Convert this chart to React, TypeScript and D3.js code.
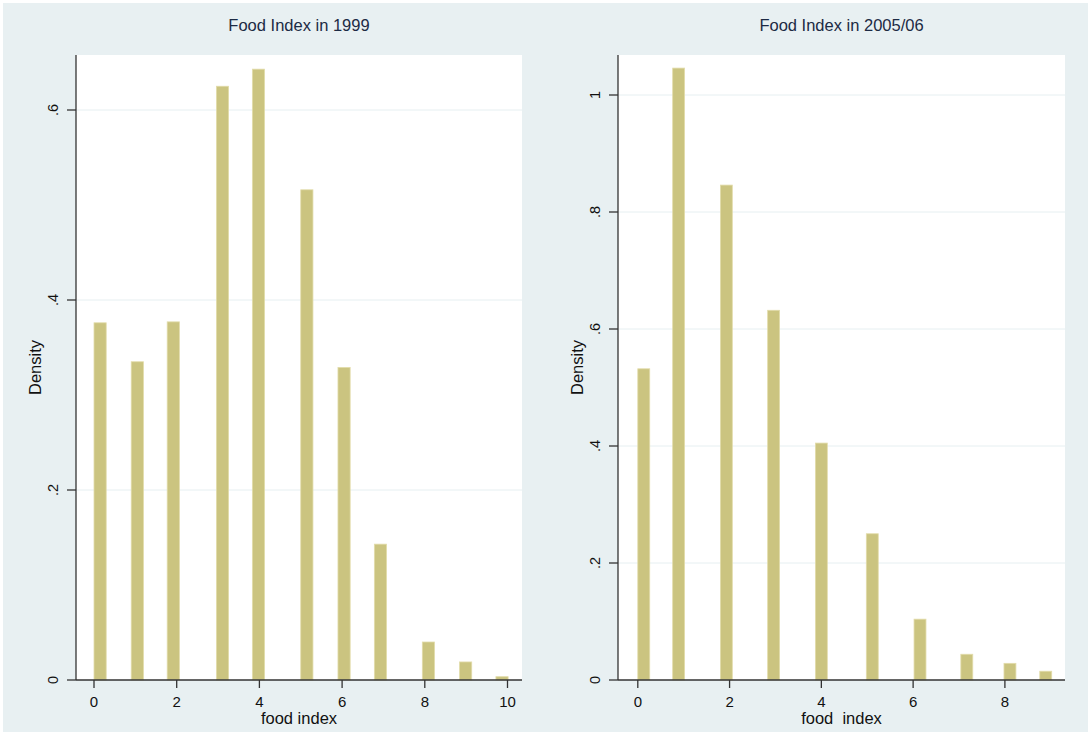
import React from "react";
import * as d3 from "d3";

// Food Index in 1999 - histogram bins (left edge of bin, density)
const bins1999 = [0, 0.9, 1.77, 2.96, 3.83, 5.0, 5.9, 6.78, 7.94, 8.84, 9.72];
const density1999 = [0.376, 0.335, 0.377, 0.625, 0.643, 0.516, 0.329, 0.143, 0.04, 0.019, 0.0035];
const binWidth1999 = 0.295;
const xTicks1999 = [0, 2, 4, 6, 8, 10];
const yTicks1999 = [0, 0.2, 0.4, 0.6];

// Food Index in 2005/06
const bins2005 = [0, 0.76, 1.8, 2.83, 3.87, 4.98, 6.02, 7.04, 7.98, 8.76];
const density2005 = [0.532, 1.046, 0.846, 0.632, 0.405, 0.25, 0.104, 0.044, 0.0285, 0.015];
const binWidth2005 = 0.26;
const xTicks2005 = [0, 2, 4, 6, 8];
const yTicks2005 = [0, 0.2, 0.4, 0.6, 0.8, 1];

const FONT = "'Liberation Sans', Arial, sans-serif";
const BG = "#e8f0f2";
const BAR = "#cbc480";

const fmtTick = (v) => (v === 0 ? "0" : v >= 1 ? String(v) : String(v).replace(/^0/, ""));

function Histogram({ title, xLabel, bins, density, binWidth, xTicks, yTicks, plot, xScaleDef, yScaleDef }) {
  const xScale = d3.scaleLinear().domain(xScaleDef.domain).range(xScaleDef.range);
  const yScale = d3.scaleLinear().domain(yScaleDef.domain).range(yScaleDef.range);
  const midX = (plot.left + plot.right) / 2;
  const baseY = yScale(0);

  return (
    <g>
      {/* plot region */}
      <rect x={plot.left} y={plot.top} width={plot.right - plot.left} height={baseY - plot.top} fill="white" />
      {/* grid */}
      {yTicks
        .filter((t) => t > 0)
        .map((t) => (
          <line key={t} x1={plot.left} x2={plot.right} y1={yScale(t)} y2={yScale(t)} stroke="#e6eff1" strokeWidth={1} />
        ))}
      {/* bars */}
      {bins.map((b, i) => (
        <rect
          key={i}
          x={xScale(b)}
          y={yScale(density[i])}
          width={xScale(b + binWidth) - xScale(b)}
          height={baseY - yScale(density[i])}
          fill={BAR}
          stroke="#e2dcaa"
          strokeWidth={0.8}
        />
      ))}
      {/* axes */}
      <line x1={plot.left} x2={plot.left} y1={plot.top} y2={baseY} stroke="#333" strokeWidth={1.3} />
      <line x1={plot.left} x2={plot.right} y1={baseY} y2={baseY} stroke="#333" strokeWidth={1.3} />
      {yTicks.map((t) => (
        <g key={t}>
          <line x1={plot.left - 9} x2={plot.left} y1={yScale(t)} y2={yScale(t)} stroke="#333" strokeWidth={1.3} />
          <text
            transform={`translate(${plot.left - 18}, ${yScale(t)}) rotate(-90)`}
            textAnchor="middle"
            fontSize={14.5}
            fontFamily={FONT}
            fill="#111"
          >
            {fmtTick(t)}
          </text>
        </g>
      ))}
      {xTicks.map((t) => (
        <g key={t}>
          <line x1={xScale(t)} x2={xScale(t)} y1={baseY} y2={baseY + 8} stroke="#333" strokeWidth={1.3} />
          <text x={xScale(t)} y={baseY + 27} textAnchor="middle" fontSize={15} fontFamily={FONT} fill="#111">
            {t}
          </text>
        </g>
      ))}
      {/* labels */}
      <text x={midX} y={31} textAnchor="middle" fontSize={16.5} fontFamily={FONT} fill="#1c2a44">
        {title}
      </text>
      <text
        x={midX}
        y={724}
        textAnchor="middle"
        fontSize={16.5}
        fontFamily={FONT}
        fill="#111"
        style={{ whiteSpace: "pre" }}
      >
        {xLabel}
      </text>
      <text
        transform={`translate(${plot.left - 35}, ${(plot.top + baseY) / 2}) rotate(-90)`}
        textAnchor="middle"
        fontSize={16.5}
        fontFamily={FONT}
        fill="#111"
      >
        Density
      </text>
    </g>
  );
}

export default function App() {
  return (
    <div style={{ position: "absolute", left: 0, top: 0 }}>
      <svg width={1090} height={735} style={{ display: "block" }}>
        <rect x={0} y={0} width={1090} height={735} fill="white" />
        <rect x={3} y={3} width={1085} height={729} fill={BG} />
        <Histogram
          title="Food Index in 1999"
          xLabel="food index"
          bins={bins1999}
          density={density1999}
          binWidth={binWidth1999}
          xTicks={xTicks1999}
          yTicks={yTicks1999}
          plot={{ left: 76, right: 522, top: 55 }}
          xScaleDef={{ domain: [0, 10], range: [94, 507.5] }}
          yScaleDef={{ domain: [0, 0.6], range: [680, 110] }}
        />
        <Histogram
          title="Food Index in 2005/06"
          xLabel="food  index"
          bins={bins2005}
          density={density2005}
          binWidth={binWidth2005}
          xTicks={xTicks2005}
          yTicks={yTicks2005}
          plot={{ left: 618, right: 1065, top: 55 }}
          xScaleDef={{ domain: [0, 8], range: [637.8, 1004.9] }}
          yScaleDef={{ domain: [0, 1], range: [680, 95] }}
        />
      </svg>
    </div>
  );
}
